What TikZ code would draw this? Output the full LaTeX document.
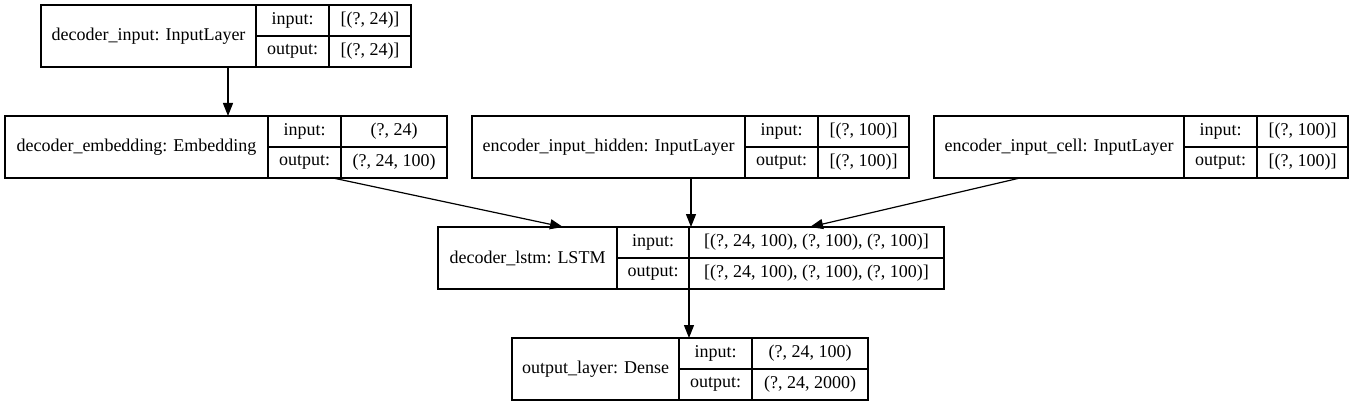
\documentclass[tikz,border=0pt]{standalone}
\usepackage{fontspec}
\setmainfont{Liberation Serif}
\usetikzlibrary{arrows.meta,fit}
\tikzset{
  cell/.style={draw=black, line width=1.2pt, inner sep=0pt, outer sep=0pt, font=\fontsize{18pt}{21pt}\selectfont\rmfamily, text=black},
  edge/.style={draw=black, line width=1.2pt, -{Triangle[length=13pt,width=10pt]}},
  wrap/.style={inner sep=0pt, outer sep=0pt}
}
% #1 name, #2..#5 x positions (px), #6 top (px), #7 title, #8 input, #9 output
\newcommand\recbox[9]{%
  \pgfmathsetmacro\wa{#3-#2}%
  \pgfmathsetmacro\wb{#4-#3}%
  \pgfmathsetmacro\wc{#5-#4}%
  \pgfmathsetmacro\yt{405-#6}%
  \pgfmathsetmacro\ym{405-#6-31}%
  \node[cell, minimum width=\wa pt, minimum height=62pt, anchor=north west] (#1-t) at (#2pt,\yt pt) {#7};
  \node[cell, minimum width=\wb pt, minimum height=31pt, anchor=north west] (#1-il) at (#3pt,\yt pt) {input:};
  \node[cell, minimum width=\wb pt, minimum height=31pt, anchor=north west] (#1-ol) at (#3pt,\ym pt) {output:};
  \node[cell, minimum width=\wc pt, minimum height=31pt, anchor=north west] (#1-iv) at (#4pt,\yt pt) {#8};
  \node[cell, minimum width=\wc pt, minimum height=31pt, anchor=north west] (#1-ov) at (#4pt,\ym pt) {#9};
  \node[wrap, fit=(#1-t)(#1-ov)] (#1) {};
}
\begin{document}
\begin{tikzpicture}
\fill[white] (0,0) rectangle (1354pt,405pt);
\useasboundingbox (0,0) rectangle (1354pt,405pt);
\recbox{din}{41}{256}{329}{411}{5}{decoder\_input: InputLayer}{[(?, 24)]}{[(?, 24)]}
\recbox{emb}{5}{268}{341}{447}{116}{decoder\_embedding: Embedding}{(?, 24)}{(?, 24, 100)}
\recbox{hid}{472}{745}{818}{909}{116}{encoder\_input\_hidden: InputLayer}{[(?, 100)]}{[(?, 100)]}
\recbox{cel}{934}{1184}{1257}{1348}{116}{encoder\_input\_cell: InputLayer}{[(?, 100)]}{[(?, 100)]}
\recbox{lstm}{438}{617}{689}{944}{227}{decoder\_lstm: LSTM}{[(?, 24, 100), (?, 100), (?, 100)]}{[(?, 24, 100), (?, 100), (?, 100)]}
\recbox{out}{512}{679}{752}{868}{338}{output\_layer: Dense}{(?, 24, 100)}{(?, 24, 2000)}
\draw[edge] (din.south) ++(2pt,0) coordinate (d0) (d0) -- (d0 |- emb.north);
\draw[edge] ([xshift=107pt]emb.south) -- ([xshift=-128pt]lstm.north);
\draw[edge] (hid.south) ++(0.5pt,0) coordinate (h0) (h0) -- (h0 |- lstm.north);
\draw[edge] ([xshift=-121pt]cel.south) -- ([xshift=119pt]lstm.north);
\draw[edge] (lstm-il.south east) ++(0,-31pt) coordinate (l0) (l0) -- (l0 |- out.north);
\end{tikzpicture}
\end{document}
